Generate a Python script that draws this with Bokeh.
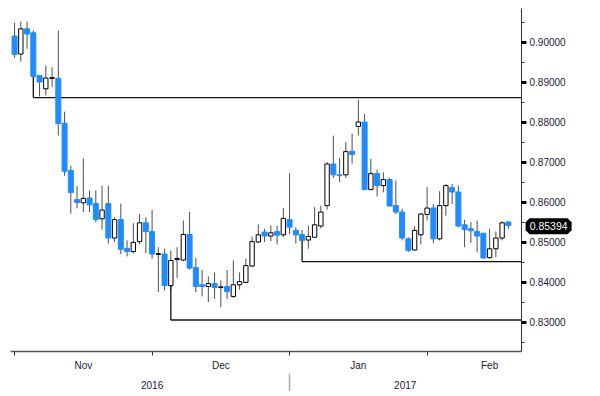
from bokeh.plotting import figure
from bokeh.models import (FixedTicker, LinearAxis, Range1d, Label,
                          PrintfTickFormatter, ColumnDataSource)
from bokeh.embed import file_html
from bokeh.resources import INLINE

# ---- data (daily OHLC, trading-day index 0 = 1 Nov 2016) ----
opens = [0.9015, 0.8970, 0.9033, 0.9023, 0.8916, 0.8883, 0.8909, 0.8909, 0.8797, 0.8679,
         0.8606, 0.8598, 0.8610, 0.8596, 0.8558, 0.8596, 0.8510, 0.8556, 0.8484, 0.8476,
         0.8501, 0.8548, 0.8526, 0.8469, 0.8470, 0.8391, 0.8456, 0.8455, 0.8519, 0.8436,
         0.8393, 0.8389, 0.8396, 0.8386, 0.8389, 0.8364, 0.8393, 0.8399, 0.8440, 0.8500,
         0.8525, 0.8515, 0.8526, 0.8518, 0.8556, 0.8529, 0.8519, 0.8505, 0.8512, 0.8540,
         0.8591, 0.8695, 0.8668, 0.8668, 0.8727, 0.8789, 0.8800, 0.8631, 0.8671, 0.8641,
         0.8656, 0.8591, 0.8575, 0.8508, 0.8480, 0.8518, 0.8569, 0.8585, 0.8508, 0.8591,
         0.8636, 0.8625, 0.8543, 0.8533, 0.8526, 0.8522, 0.8461, 0.8483, 0.8510, 0.8550]
highs = [0.9048, 0.9051, 0.9051, 0.9029, 0.8916, 0.8941, 0.8937, 0.9029, 0.8826, 0.8691,
         0.8640, 0.8709, 0.8629, 0.8629, 0.8641, 0.8641, 0.8562, 0.8596, 0.8504, 0.8547,
         0.8570, 0.8562, 0.8580, 0.8487, 0.8483, 0.8479, 0.8487, 0.8554, 0.8575, 0.8460,
         0.8430, 0.8414, 0.8424, 0.8404, 0.8430, 0.8454, 0.8424, 0.8458, 0.8514, 0.8544,
         0.8533, 0.8541, 0.8541, 0.8585, 0.8672, 0.8537, 0.8530, 0.8541, 0.8587, 0.8591,
         0.8700, 0.8766, 0.8710, 0.8750, 0.8771, 0.8856, 0.8820, 0.8708, 0.8681, 0.8674,
         0.8660, 0.8654, 0.8583, 0.8512, 0.8539, 0.8572, 0.8637, 0.8595, 0.8627, 0.8645,
         0.8645, 0.8641, 0.8556, 0.8550, 0.8554, 0.8522, 0.8533, 0.8526, 0.8552, 0.8552]
lows = [0.8960, 0.8951, 0.8983, 0.8911, 0.8864, 0.8866, 0.8887, 0.8766, 0.8666, 0.8571,
        0.8584, 0.8575, 0.8575, 0.8549, 0.8531, 0.8496, 0.8500, 0.8470, 0.8464, 0.8472,
        0.8495, 0.8472, 0.8458, 0.8375, 0.8379, 0.8379, 0.8410, 0.8452, 0.8431, 0.8375,
        0.8364, 0.8350, 0.8358, 0.8337, 0.8358, 0.8360, 0.8381, 0.8399, 0.8437, 0.8498,
        0.8500, 0.8502, 0.8494, 0.8512, 0.8519, 0.8496, 0.8502, 0.8483, 0.8510, 0.8534,
        0.8581, 0.8660, 0.8650, 0.8660, 0.8696, 0.8766, 0.8631, 0.8630, 0.8614, 0.8624,
        0.8589, 0.8570, 0.8504, 0.8475, 0.8479, 0.8494, 0.8554, 0.8497, 0.8504, 0.8566,
        0.8595, 0.8537, 0.8487, 0.8498, 0.8474, 0.8460, 0.8458, 0.8462, 0.8504, 0.8533]
closes = [0.8969, 0.9033, 0.9020, 0.8914, 0.8900, 0.8910, 0.8911, 0.8796, 0.8677, 0.8624,
          0.8599, 0.8609, 0.8593, 0.8556, 0.8580, 0.8510, 0.8556, 0.8482, 0.8476, 0.8499,
          0.8548, 0.8526, 0.8470, 0.8471, 0.8391, 0.8454, 0.8459, 0.8519, 0.8435, 0.8389,
          0.8389, 0.8396, 0.8386, 0.8388, 0.8376, 0.8393, 0.8401, 0.8441, 0.8501, 0.8518,
          0.8515, 0.8523, 0.8517, 0.8559, 0.8537, 0.8518, 0.8504, 0.8514, 0.8543, 0.8575,
          0.8695, 0.8668, 0.8666, 0.8726, 0.8719, 0.8800, 0.8631, 0.8671, 0.8641, 0.8656,
          0.8590, 0.8575, 0.8510, 0.8479, 0.8529, 0.8570, 0.8585, 0.8508, 0.8591, 0.8641,
          0.8625, 0.8540, 0.8531, 0.8528, 0.8515, 0.8460, 0.8483, 0.8510, 0.8548, 0.8541]

last_price = 0.85394

month_labels = ["Nov", "Dec", "Jan", "Feb"]
month_label_pos = [11, 33, 55, 76]
month_starts = [0, 22, 44, 66]
year_labels = ["2016", "2017"]
year_label_pos = [22, 62.5]
year_breaks = [44]

y_ticks = [0.83, 0.84, 0.85, 0.86, 0.87, 0.88, 0.89, 0.90]
y_minor = [0.825, 0.835, 0.845, 0.855, 0.865, 0.875, 0.885, 0.895, 0.905]

# support / resistance lines: start candle index and level
level_start_idx = [3, 25, 46]
level_values = [0.8861, 0.8305, 0.8451]

BLUE = "#1E8CFF"
WICK = "#4d4d4d"
TXT = "#1a1a33"
FONT = "Liberation Sans"

X0, X1 = -0.65, 81.1
idx = list(range(len(opens)))

up_src = ColumnDataSource(dict(
    x=[i for i in idx if closes[i] >= opens[i]],
    top=[max(opens[i], closes[i]) for i in idx if closes[i] >= opens[i]],
    bottom=[min(opens[i], closes[i]) for i in idx if closes[i] >= opens[i]]))
dn_src = ColumnDataSource(dict(
    x=[i for i in idx if closes[i] < opens[i]],
    top=[max(opens[i], closes[i]) for i in idx if closes[i] < opens[i]],
    bottom=[min(opens[i], closes[i]) for i in idx if closes[i] < opens[i]]))

p = figure(frame_width=511, frame_height=343,
           x_range=Range1d(X0, X1), y_range=Range1d(0.82263, 0.90838),
           output_backend="svg", toolbar_location=None,
           y_axis_location="right",
           min_border_left=10, min_border_top=8, min_border_right=70,
           min_border_bottom=0)
p.grid.visible = False
p.outline_line_color = None
p.background_fill_color = "white"
p.border_fill_color = "white"

# wicks
p.segment(x0=idx, y0=lows, x1=idx, y1=highs, line_color=WICK, line_width=1)

# support lines with connectors
anchors = [min(opens[i], closes[i]) for i in level_start_idx]
p.segment(x0=level_start_idx, y0=anchors, x1=level_start_idx, y1=level_values,
          line_color="#111111", line_width=1.3)
p.segment(x0=level_start_idx, y0=level_values, x1=[X1] * len(level_values),
          y1=level_values, line_color="#111111", line_width=1.3)

# bodies
p.vbar(x="x", top="top", bottom="bottom", width=0.8, source=dn_src,
       fill_color=BLUE, line_color=BLUE, line_width=1)
p.vbar(x="x", top="top", bottom="bottom", width=0.7, source=up_src,
       fill_color="white", line_color="black", line_width=1)

# right price axis
ya = p.yaxis[0]
ya.ticker = FixedTicker(ticks=y_ticks, minor_ticks=y_minor)
ya.formatter = PrintfTickFormatter(format="%.5f")
ya.axis_line_color = "#333333"
ya.axis_line_width = 1
ya.major_tick_in = 0
ya.major_tick_out = 5
ya.major_tick_line_width = 3
ya.major_tick_line_color = "black"
ya.minor_tick_in = 0
ya.minor_tick_out = 3
ya.minor_tick_line_color = "#333333"
ya.major_label_standoff = 3
ya.major_label_text_font = FONT
ya.major_label_text_font_size = "10px"
ya.major_label_text_color = TXT

# month axis
xa = p.xaxis[0]
xa.ticker = FixedTicker(ticks=month_label_pos, minor_ticks=month_starts)
xa.major_label_overrides = {k: v for k, v in zip(month_label_pos, month_labels)}
xa.axis_line_color = "#555555"
xa.axis_line_width = 1.5
xa.major_tick_out = 0
xa.major_tick_in = 0
xa.minor_tick_in = 0
xa.minor_tick_out = 4
xa.minor_tick_line_color = "#333333"
xa.major_label_standoff = 4
xa.major_label_text_font = FONT
xa.major_label_text_font_size = "10px"
xa.major_label_text_color = TXT

# year axis
yr = LinearAxis(ticker=FixedTicker(ticks=year_label_pos, minor_ticks=year_breaks))
yr.major_label_overrides = {k: v for k, v in zip(year_label_pos, year_labels)}
yr.axis_line_color = None
yr.major_tick_line_color = None
yr.major_tick_out = 0
yr.major_tick_in = 0
yr.minor_tick_in = 0
yr.minor_tick_out = 20
yr.minor_tick_line_color = "#aaaaaa"
yr.minor_tick_line_width = 1.5
yr.major_label_standoff = -13
yr.major_label_text_font = FONT
yr.major_label_text_font_size = "10px"
yr.major_label_text_color = TXT
p.add_layout(yr, "below")

# last price tag (placed in the right side panel so it is not clipped to the frame)
tag = Label(x=82.4, y=last_price, x_units="data", y_units="data",
            text=f"{last_price:.5f}", text_color="white",
            text_font=FONT, text_font_size="10.5px",
            text_baseline="middle", text_align="left",
            background_fill_color="black",
            border_line_color="black", border_line_width=8)
p.add_layout(tag, "right")

open("out.html", "w").write(file_html(p, INLINE))
